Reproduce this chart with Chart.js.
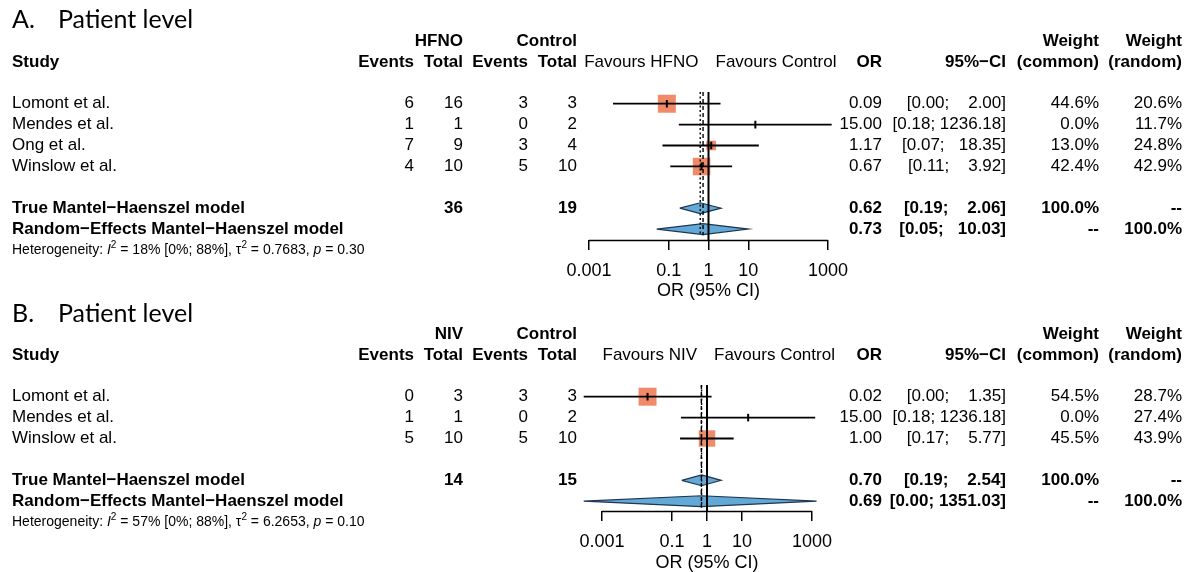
<!DOCTYPE html>
<html><head><meta charset="utf-8">
<script src="https://cdn.jsdelivr.net/npm/chart.js@4.4.0/dist/chart.umd.min.js"></script>
<style>
html,body{margin:0;padding:0;background:#fff;}
#wrap{position:relative;width:1185px;height:572px;overflow:hidden;}
canvas{position:absolute;left:0;}
#cA{top:0}
#cB{top:294px}
</style></head><body>
<div id="wrap"><canvas id="cA" width="1185" height="302"></canvas><canvas id="cB" width="1185" height="280"></canvas></div>
<script>
// ---- data: panel A (HFNO vs control) ----
const studiesA=['Lomont et al.','Mendes et al.','Ong et al.','Winslow et al.'];
const evExpA=[6,1,7,4], totExpA=[16,1,9,10];
const evCtlA=[3,0,3,5], totCtlA=[3,2,4,10];
const orA=[0.09,15.00,1.17,0.67];
const loA=[0.004,0.18,0.07,0.11];
const hiA=[2.00,1236.18,18.35,3.92];
const wCommonA=[44.6,0.0,13.0,42.4];
const wRandomA=[20.6,11.7,24.8,42.9];
const pooledOrA=[0.62,0.73], pooledLoA=[0.19,0.05], pooledHiA=[2.06,10.03];
const totalsA=[36,19];
const hetA=['18%','[0%; 88%]','0.7683','0.30'];

// ---- data: panel B (NIV vs control) ----
const studiesB=['Lomont et al.','Mendes et al.','Winslow et al.'];
const evExpB=[0,1,5], totExpB=[3,1,10];
const evCtlB=[3,0,5], totCtlB=[3,2,10];
const orB=[0.02,15.00,1.00];
const loB=[0.0003,0.18,0.17];
const hiB=[1.35,1236.18,5.77];
const wCommonB=[54.5,0.0,45.5];
const wRandomB=[28.7,27.4,43.9];
const pooledOrB=[0.70,0.69], pooledLoB=[0.19,0.0003], pooledHiB=[2.54,1351.03];
const totalsB=[14,15];
const hetB=['57%','[0%; 88%]','6.2653','0.10'];

const modelNames=['True Mantel\u2212Haenszel model','Random\u2212Effects Mantel\u2212Haenszel model'];
const tickVals=[0.001,0.1,1,10,1000];
const tickLabels=['0.001','0.1','1','10','1000'];

const FONT='"Liberation Sans", Arial, sans-serif';
const SQ='#F08A68', DIA='#62A9D5', DIA_EDGE='#1f3552';
const COL={ev:414,tot:463,evC:528,totC:577,or:882,ci:1006,wC:1099,wR:1182};

function txt(ctx,s,x,y,align,bold,size){
  ctx.font=(bold?'bold ':'')+(size||17)+'px '+FONT;
  ctx.textAlign=align;ctx.textBaseline='middle';ctx.fillStyle='#000';
  ctx.fillText(s,x,y);
}

function drawHet(ctx,x,y,h){
  const segs=[['Heterogeneity: ',''],['I','i'],['2','s'],[' = '+h[0]+' '+h[1]+', \u03c4',''],['2','s'],[' = '+h[2]+', ',''],['p','i'],[' = '+h[3],'']];
  ctx.textAlign='left';ctx.textBaseline='middle';ctx.fillStyle='#000';
  segs.forEach(([s,k])=>{
    ctx.font=(k==='i'?'italic ':'')+(k==='s'?'10px ':'14px ')+FONT;
    ctx.fillText(s,x,k==='s'?y-5:y);
    x+=ctx.measureText(s).width;
  });
}

function makePanel(p){
  const n=p.studies.length;
  const rows=p.studies.map((_,i)=>3+i);
  const rowC=3+n+1, rowR=rowC+1, rowHet=rowR+1;
  const yMin=(p.top-p.rowY0)/p.rowH, yMax=(p.axisY-p.rowY0)/p.rowH;
  const dec=(p.x1000-p.x001)/6;
  const wMax=Math.max(...p.wC);
  const hiLen=Math.max(...p.hi.concat(p.pHi).map(v=>v.toFixed(2).length));
  const ci=(lo,hi)=>'['+lo.toFixed(2)+'; '+hi.toFixed(2).padStart(hiLen,' ')+']';

  const ds=[];
  // estimate ticks (top)
  ds.push({type:'scatter',order:0,data:p.or.map((v,i)=>({x:v,y:rows[i]})),pointStyle:'line',pointRotation:90,rotation:90,
    pointRadius:3.8,pointBorderWidth:2,borderWidth:2,pointBorderColor:'#000',borderColor:'#000'});
  // reference line at 1
  ds.push({type:'line',order:1,data:[{x:1,y:yMin},{x:1,y:yMax}],borderColor:'#000',borderWidth:2,pointRadius:0});
  // common / random estimate lines
  ds.push({type:'line',order:1,data:[{x:p.pOr[0],y:yMin},{x:p.pOr[0],y:rowR+0.3}],borderColor:'#000',borderWidth:1.4,borderDash:[2,2.5],pointRadius:0});
  ds.push({type:'line',order:1,data:[{x:p.pOr[1],y:yMin},{x:p.pOr[1],y:rowR+0.3}],borderColor:'#000',borderWidth:1.4,borderDash:[4,3],pointRadius:0});
  // confidence intervals
  p.studies.forEach((s,i)=>ds.push({type:'line',order:1,data:[{x:p.lo[i],y:rows[i]},{x:p.hi[i],y:rows[i]}],borderColor:'#000',borderWidth:1.8,pointRadius:0}));
  // pooled diamonds
  [rowC,rowR].forEach((r,k)=>ds.push({type:'line',order:2,fill:'shape',backgroundColor:DIA,borderColor:DIA_EDGE,borderWidth:1.2,pointRadius:0,
    data:[{x:p.pLo[k],y:r},{x:p.pOr[k],y:r-0.26},{x:p.pHi[k],y:r},{x:p.pOr[k],y:r+0.26},{x:p.pLo[k],y:r}]}));
  // weight squares
  ds.push({type:'scatter',order:3,data:p.or.map((v,i)=>({x:v,y:rows[i]})),pointStyle:'rect',
    pointRadius:p.wC.map(w=>w>0?12.7*Math.sqrt(w/wMax):0),backgroundColor:SQ,pointBackgroundColor:SQ,pointBorderWidth:0,borderWidth:0});

  const table={id:'table',afterDraw(chart){
    const ctx=chart.ctx, Y=k=>chart.scales.y.getPixelForValue(k), X=v=>chart.scales.x.getPixelForValue(v);
    ctx.save();
    // axis line between first and last tick
    ctx.strokeStyle='#000';ctx.lineWidth=1.5;ctx.beginPath();
    const ya=Math.round(chart.chartArea.bottom)+0.5;
    ctx.moveTo(X(tickVals[0]),ya);ctx.lineTo(X(tickVals[tickVals.length-1]),ya);ctx.stroke();
    // panel title
    ctx.font='25px Lato, "Noto Sans", sans-serif';ctx.textAlign='left';ctx.textBaseline='middle';ctx.fillStyle='#000';
    ctx.fillText(p.letter,12,20);ctx.fillText('Patient level',58,20);
    // header
    txt(ctx,p.arm,COL.tot,Y(0),'right',true);
    txt(ctx,'Control',COL.totC,Y(0),'right',true);
    txt(ctx,'Weight',COL.wC,Y(0),'right',true);
    txt(ctx,'Weight',COL.wR,Y(0),'right',true);
    txt(ctx,'Study',12,Y(1),'left',true);
    txt(ctx,'Events',COL.ev,Y(1),'right',true);
    txt(ctx,'Total',COL.tot,Y(1),'right',true);
    txt(ctx,'Events',COL.evC,Y(1),'right',true);
    txt(ctx,'Total',COL.totC,Y(1),'right',true);
    txt(ctx,'Favours '+p.arm,X(1)-10,Y(1),'right',false);
    txt(ctx,'Favours Control',X(1)+7,Y(1),'left',false);
    txt(ctx,'OR',COL.or,Y(1),'right',true);
    txt(ctx,'95%\u2212CI',COL.ci,Y(1),'right',true);
    txt(ctx,'(common)',COL.wC,Y(1),'right',true);
    txt(ctx,'(random)',COL.wR,Y(1),'right',true);
    // studies
    p.studies.forEach((s,i)=>{
      const y=Y(rows[i]);
      txt(ctx,s,12,y,'left');
      txt(ctx,String(p.ev[i]),COL.ev,y,'right');
      txt(ctx,String(p.tot[i]),COL.tot,y,'right');
      txt(ctx,String(p.evC[i]),COL.evC,y,'right');
      txt(ctx,String(p.totC[i]),COL.totC,y,'right');
      txt(ctx,p.or[i].toFixed(2),COL.or,y,'right');
      txt(ctx,ci(p.lo[i],p.hi[i]),COL.ci,y,'right');
      txt(ctx,p.wC[i].toFixed(1)+'%',COL.wC,y,'right');
      txt(ctx,p.wR[i].toFixed(1)+'%',COL.wR,y,'right');
    });
    // pooled
    [rowC,rowR].forEach((r,k)=>{
      const y=Y(r);
      txt(ctx,modelNames[k],12,y,'left',true);
      if(k===0){txt(ctx,String(p.totals[0]),COL.tot,y,'right',true);txt(ctx,String(p.totals[1]),COL.totC,y,'right',true);}
      txt(ctx,p.pOr[k].toFixed(2),COL.or,y,'right',true);
      txt(ctx,ci(p.pLo[k],p.pHi[k]),COL.ci,y,'right',true);
      txt(ctx,k===0?'100.0%':'--',COL.wC,y,'right',true);
      txt(ctx,k===0?'--':'100.0%',COL.wR,y,'right',true);
    });
    drawHet(ctx,12,Y(rowHet),p.het);
    ctx.restore();
  }};

  return new Chart(document.getElementById(p.canvas),{
    type:'scatter',
    data:{datasets:ds},
    options:{
      responsive:false,animation:false,events:[],
      layout:{padding:{left:p.x001-dec,right:1185-(p.x1000+dec),top:p.top,bottom:0}},
      plugins:{legend:{display:false},tooltip:{enabled:false}},
      scales:{
        x:{type:'logarithmic',min:1e-4,max:1e4,
          afterBuildTicks:s=>{s.ticks=tickVals.map(v=>({value:v}));},
          afterFit:s=>{s.height=p.H-p.axisY;},
          border:{display:false},
          grid:{display:true,drawOnChartArea:false,drawTicks:true,tickLength:10,color:'#000',lineWidth:1.5},
          ticks:{autoSkip:false,maxRotation:0,padding:10.7,color:'#000',font:{family:FONT,size:18},
            callback:(v,i)=>tickLabels[i]},
          title:{display:true,text:'OR (95% CI)',color:'#000',font:{family:FONT,size:18},padding:{top:0,bottom:0}}},
        y:{type:'linear',display:false,reverse:true,min:yMin,max:yMax}
      }
    },
    plugins:[table]
  });
}

makePanel({canvas:'cA',letter:'A.',arm:'HFNO',studies:studiesA,ev:evExpA,tot:totExpA,evC:evCtlA,totC:totCtlA,
  or:orA,lo:loA,hi:hiA,wC:wCommonA,wR:wRandomA,pOr:pooledOrA,pLo:pooledLoA,pHi:pooledHiA,totals:totalsA,het:hetA,
  rowY0:41,rowH:20.9,top:92,axisY:240,H:302,x001:589,x1000:828});
makePanel({canvas:'cB',letter:'B.',arm:'NIV',studies:studiesB,ev:evExpB,tot:totExpB,evC:evCtlB,totC:totCtlB,
  or:orB,lo:loB,hi:hiB,wC:wCommonB,wR:wRandomB,pOr:pooledOrB,pLo:pooledLoB,pHi:pooledHiB,totals:totalsB,het:hetB,
  rowY0:40,rowH:20.9,top:91,axisY:217,H:280,x001:602,x1000:812});
</script>
</body></html>
